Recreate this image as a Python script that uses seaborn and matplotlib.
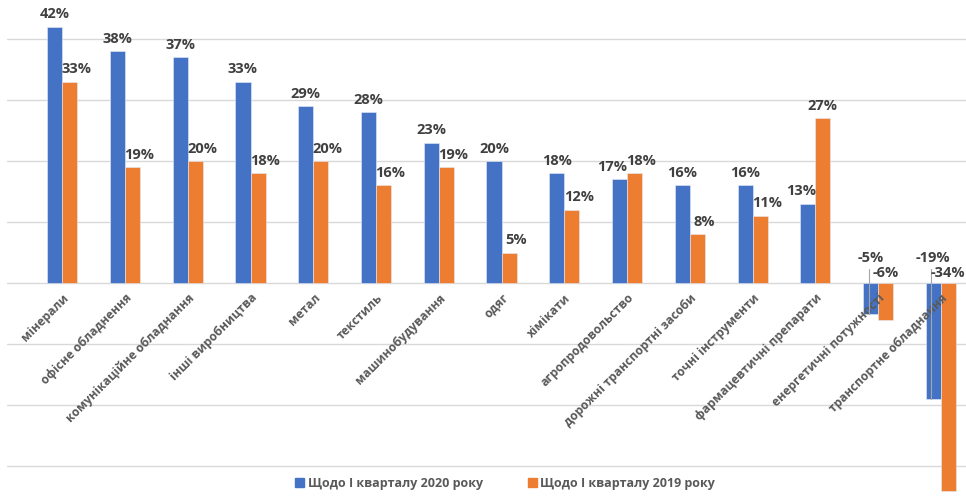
import numpy as np
import pandas as pd
import matplotlib
matplotlib.use("Agg")
import matplotlib.pyplot as plt
import seaborn as sns

# -----------------------------
# Data
# -----------------------------
categories = [
    "мінерали", "офісне обладнення", "комунікаційне обладнання",
    "інші виробництва", "метал", "текстиль", "машинобудування", "одяг",
    "хімікати", "агропродовольство", "дорожні транспортні засоби",
    "точні інструменти", "фармацевтичні препарати",
    "енергетичні потужності", "транспортне обладнання",
]
series_names = ["Щодо І кварталу 2020 року", "Щодо І кварталу 2019 року"]
vals_2020 = [42, 38, 37, 33, 29, 28, 23, 20, 18, 17, 16, 16, 13, -5, -19]
vals_2019 = [33, 19, 20, 18, 20, 16, 19, 5, 12, 18, 8, 11, 27, -6, -34]
grid_levels = [-30, -20, -10, 0, 10, 20, 30, 40]

colors = ["#4472C4", "#ED7D31"]
label_color = "#404040"
tick_color = "#595959"

df = pd.DataFrame({
    "cat": categories * 2,
    "val": vals_2020 + vals_2019,
    "series": [series_names[0]] * len(categories) + [series_names[1]] * len(categories),
})

# -----------------------------
# Style
# -----------------------------
sns.set_style("white")
plt.rcParams["font.family"] = ["Open Sans", "DejaVu Sans"]

fig = plt.figure(figsize=(9.66, 4.96), dpi=100)
ax = fig.add_axes([7 / 966, 0, 959 / 966, 1])

sns.barplot(
    data=df, x="cat", y="val", hue="series", palette=colors,
    width=0.48, ax=ax, legend=False, saturation=1,
    edgecolor="#e6ecf7", linewidth=0.4,
)

ax.set_xlim(-0.88, 14.4)
ax.set_ylim(-34.9, 46.4)
ax.set_yticks([])
for g in grid_levels:
    ax.axhline(g, color="#d9d9d9", linewidth=1, zorder=0)
for s in ["top", "right", "left"]:
    ax.spines[s].set_visible(False)
ax.spines["bottom"].set_position(("data", 0))
ax.spines["bottom"].set_visible(False)
ax.set_axisbelow(False)
ax.set_xlabel("")
ax.set_ylabel("")

ax.tick_params(axis="x", length=0, pad=6)
ax.set_xticks(range(len(categories)))
ax.set_xticklabels(categories, rotation=45, ha="right",
                   rotation_mode="anchor", fontsize=8.7, fontweight="bold",
                   color=tick_color)

# -----------------------------
# Data labels
# -----------------------------
series_vals = [vals_2020, vals_2019]
neg_y = [4.1, 1.6]
for si, cont in enumerate(ax.containers):
    vals = series_vals[si]
    other = series_vals[1 - si]
    for i, bar in enumerate(cont):
        v = vals[i]
        xc = bar.get_x() + bar.get_width() / 2
        if v >= 0:
            dx = 0
            if si == 0 and other[i] > v:
                dx = -5
            if si == 1 and other[i] >= v - 2:
                dx = 5
            ax.annotate(f"{v}%", (xc, v), xytext=(dx, 4),
                        textcoords="offset points", ha="center", va="bottom",
                        fontsize=10.5, fontweight="bold", color=label_color,
                        zorder=5)
        else:
            ax.annotate(f"{v}%", (xc, neg_y[si]), xytext=(0, 0),
                        textcoords="offset points", ha="center", va="center",
                        fontsize=10.5, fontweight="bold", color=label_color,
                        zorder=5)
            if si == 0:
                ax.plot([xc - 0.03, xc - 0.03], [neg_y[si] - 1.8, v],
                        color="#a6a6a6", linewidth=0.8, zorder=4)

# -----------------------------
# Legend
# -----------------------------
handles = [plt.Rectangle((0, 0), 1, 1, color=c) for c in colors]
leg = fig.legend(handles, series_names, loc="center",
                 bbox_to_anchor=(0.523, 0.026), ncol=2, frameon=False,
                 handlelength=0.7, handleheight=0.7, handletextpad=0.3,
                 columnspacing=3.6, prop={"size": 9, "weight": "bold"})
for t in leg.get_texts():
    t.set_color(tick_color)

fig.savefig("out.png", dpi=100)
